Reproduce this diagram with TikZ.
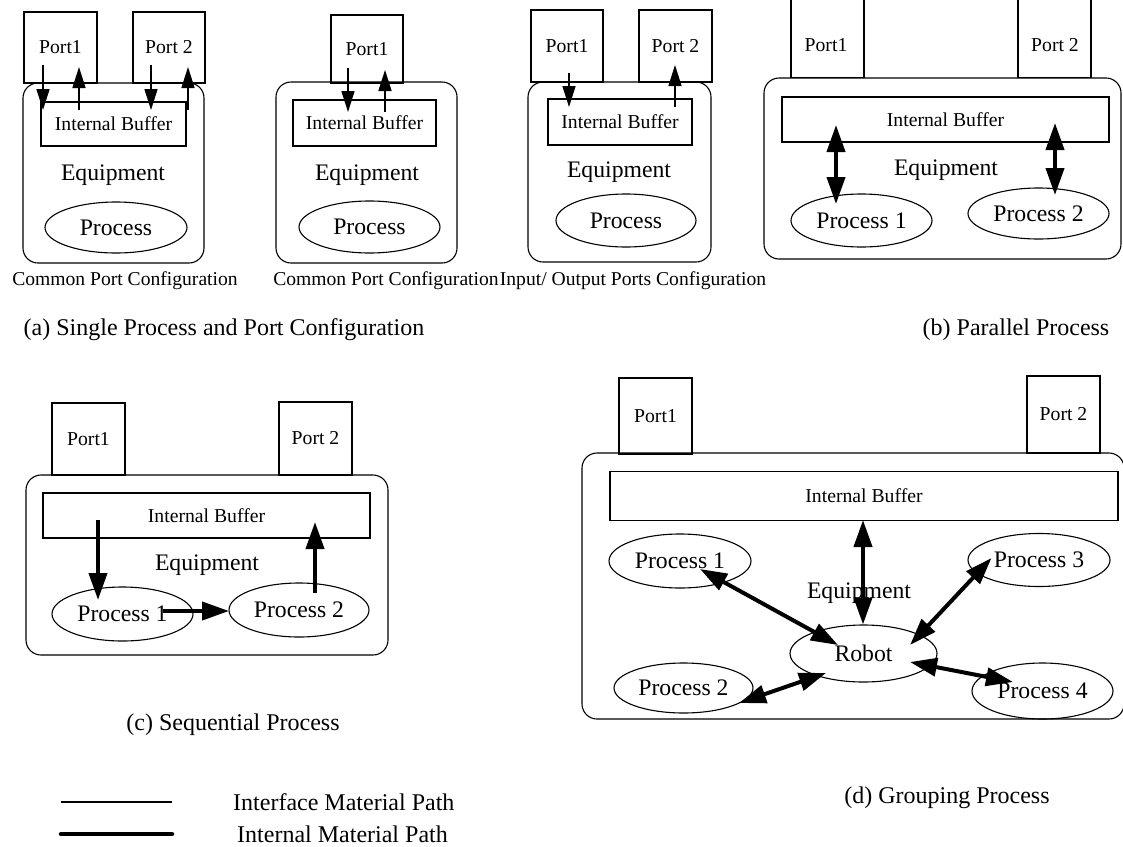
\documentclass[tikz,border=0pt]{standalone}
\usepackage{fontspec}
\setmainfont{Liberation Serif}
\usetikzlibrary{arrows.meta,shapes.geometric}
\begin{document}
\begin{tikzpicture}[x=1pt,y=-1pt,
  outline/.style={draw=black, line width=1.1pt},
  portbox/.style={outline, rectangle, inner sep=0pt, font=\fontsize{19.7}{22}\selectfont},
  openport/.style={outline, rectangle, inner sep=0pt},
  equipbox/.style={outline, rectangle, rounded corners=15pt, inner sep=0pt},
  bufferbox/.style={outline, rectangle, inner sep=0pt, font=\fontsize{19.7}{22}\selectfont},
  procell/.style={outline, ellipse, inner sep=0pt, font=\fontsize{23.7}{26}\selectfont},
  bigtext/.style={inner sep=0pt, font=\fontsize{23.7}{26}\selectfont},
  smalltext/.style={inner sep=0pt, font=\fontsize{19.7}{22}\selectfont},
  conftext/.style={inner sep=0pt, font=\fontsize{19.6}{22}\selectfont},
  captext/.style={inner sep=0pt, font=\fontsize{24}{28}\selectfont},
  iface/.style={line width=1.6pt, -{Triangle[length=21pt,width=13pt]}},
  intern/.style={line width=4pt, -{Triangle[length=27pt,width=18pt]}},
  internboth/.style={line width=4pt, {Triangle[length=27pt,width=18pt]}-{Triangle[length=27pt,width=18pt]}},
]
\fill[white] (0,0) rectangle (1123,846);
\useasboundingbox (0,0) rectangle (1123,846);

% ---------- (a) first common port configuration ----------
\node[equipbox, minimum width=181pt, minimum height=180pt] (a1e) at (113.5,173) {};
\node[portbox, minimum width=73pt, minimum height=71pt] (a1p1) at (60.5,47.5) {Port1};
\node[portbox, minimum width=72pt, minimum height=71pt] (a1p2) at (169,47.5) {Port 2};
\node[bufferbox, minimum width=145pt, minimum height=44pt] (a1b) at (113.5,124) {Internal Buffer};
\node[bigtext] (a1t) at (113,175) {Equipment};
\node[procell, minimum width=142pt, minimum height=51pt] (a1pr) at (116,227.5) {Process};
\coordinate (a1d1s) at (43,65);  \coordinate (a1d1e) at (43,110);
\coordinate (a1u1s) at (79,110); \coordinate (a1u1e) at (79,67);
\coordinate (a1d2s) at (151,65); \coordinate (a1d2e) at (151,110);
\coordinate (a1u2s) at (188,110);\coordinate (a1u2e) at (188,67);
\draw[iface] (a1d1s) -- (a1d1e);
\draw[iface] (a1u1s) -- (a1u1e);
\draw[iface] (a1d2s) -- (a1d2e);
\draw[iface] (a1u2s) -- (a1u2e);
\node[conftext] (a1c) at (125,281) {Common Port Configuration};

% ---------- (a) second common port configuration ----------
\node[equipbox, minimum width=181pt, minimum height=181pt] (a2e) at (366.5,172.5) {};
\node[portbox, minimum width=72pt, minimum height=68pt] (a2p1) at (367,49) {Port1};
\node[bufferbox, minimum width=143pt, minimum height=46pt] (a2b) at (364.5,123) {Internal Buffer};
\node[bigtext] (a2t) at (367,175) {Equipment};
\node[procell, minimum width=141pt, minimum height=52pt] (a2pr) at (369.5,227) {Process};
\coordinate (a2ds) at (348,68);  \coordinate (a2de) at (348,112);
\coordinate (a2us) at (385,112); \coordinate (a2ue) at (385,70);
\draw[iface] (a2ds) -- (a2de);
\draw[iface] (a2us) -- (a2ue);
\node[conftext] (a2c) at (386,281) {Common Port Configuration};

% ---------- (a) input / output ports configuration ----------
\node[equipbox, minimum width=183pt, minimum height=180pt] (a3e) at (619.5,172) {};
\node[portbox, minimum width=72pt, minimum height=72pt] (a3p1) at (567,46) {Port1};
\node[portbox, minimum width=73pt, minimum height=72pt] (a3p2) at (675.5,46) {Port 2};
\node[bufferbox, minimum width=144pt, minimum height=46pt] (a3b) at (620,122) {Internal Buffer};
\node[bigtext] (a3t) at (619,172) {Equipment};
\node[procell, minimum width=140pt, minimum height=53pt] (a3pr) at (626,220.5) {Process};
\coordinate (a3ds) at (569,73);  \coordinate (a3de) at (569,107);
\coordinate (a3us) at (675,107); \coordinate (a3ue) at (675,65);
\draw[iface] (a3ds) -- (a3de);
\draw[iface] (a3us) -- (a3ue);
\node[conftext] (a3c) at (633,281) {Input/ Output Ports Configuration};

\node[captext] (acap) at (224,330) {(a) Single Process and Port Configuration};

% ---------- (b) parallel process ----------
\node[openport, minimum width=73pt, minimum height=88pt] (bp1) at (827.5,34) {};
\node[openport, minimum width=73pt, minimum height=88pt] (bp2) at (1054.5,34) {};
\node[smalltext] (bp1t) at (826,45) {Port1};
\node[smalltext] (bp2t) at (1055,45) {Port 2};
\node[equipbox, fill=white, minimum width=357pt, minimum height=181pt] (be) at (942.5,168.5) {};
\node[bufferbox, minimum width=327pt, minimum height=45pt] (bb) at (945.5,119.5) {Internal Buffer};
\node[bigtext] (bt) at (946,170) {Equipment};
\node[procell, minimum width=141pt, minimum height=53pt] (bpr1) at (861.5,220.5) {Process 1};
\node[procell, minimum width=141pt, minimum height=51pt] (bpr2) at (1038.5,213.5) {Process 2};
\coordinate (ba1s) at (836,125);  \coordinate (ba1e) at (836,204);
\coordinate (ba2s) at (1055,123); \coordinate (ba2e) at (1055,195);
\draw[internboth] (ba1s) -- (ba1e);
\draw[internboth] (ba2s) -- (ba2e);
\node[captext] (bcap) at (1016,330) {(b) Parallel Process};

% ---------- (c) sequential process ----------
\node[equipbox, minimum width=362pt, minimum height=180pt] (ce) at (207,565) {};
\node[portbox, minimum width=73pt, minimum height=72pt] (cp1) at (88.5,439) {Port1};
\node[portbox, minimum width=73pt, minimum height=73pt] (cp2) at (315.5,438.5) {Port 2};
\node[bufferbox, minimum width=327pt, minimum height=45pt] (cb) at (206.5,515.5) {Internal Buffer};
\node[bigtext] (ct) at (207,565) {Equipment};
\node[procell, minimum width=141pt, minimum height=54pt] (cpr1) at (122.5,614) {Process 1};
\node[procell, minimum width=140pt, minimum height=54pt] (cpr2) at (299,610) {Process 2};
\coordinate (cds) at (98,520);  \coordinate (cde) at (98,600);
\coordinate (cus) at (315,593); \coordinate (cue) at (315,522);
\coordinate (chs) at (163,611); \coordinate (che) at (229,611);
\draw[intern] (cds) -- (cde);
\draw[intern] (cus) -- (cue);
\draw[intern] (chs) -- (che);
\node[captext] (ccap) at (233,725) {(c) Sequential Process};

% ---------- (d) grouping process ----------
\node[equipbox, minimum width=542pt, minimum height=266pt] (de) at (853,586) {};
\node[portbox, minimum width=73pt, minimum height=76pt] (dp1) at (655.5,416) {Port1};
\node[portbox, minimum width=73pt, minimum height=77pt] (dp2) at (1063.5,414.5) {Port 2};
\node[bufferbox, minimum width=508pt, minimum height=48.5pt] (db) at (864,496) {Internal Buffer};
\node[bigtext] (dt) at (859,593.5) {Equipment};
\node[procell, minimum width=142pt, minimum height=54pt] (dpr1) at (680,561) {Process 1};
\node[procell, minimum width=142pt, minimum height=53pt] (dpr3) at (1039,560) {Process 3};
\node[procell, minimum width=147pt, minimum height=57pt] (drob) at (863.5,653.5) {Robot};
\node[procell, minimum width=139pt, minimum height=50pt] (dpr2) at (683.5,688) {Process 2};
\node[procell, minimum width=141pt, minimum height=56pt] (dpr4) at (1042.5,691) {Process 4};
\coordinate (dvs) at (863,520);   \coordinate (dve) at (863,624.5);
\coordinate (d1s) at (700,569);   \coordinate (d1e) at (838,645);
\coordinate (d3s) at (991.5,558); \coordinate (d3e) at (910,645);
\coordinate (d2s) at (739,703);   \coordinate (d2e) at (826,673);
\coordinate (d4s) at (1013,682);  \coordinate (d4e) at (910,662);
\draw[internboth] (dvs) -- (dve);
\draw[internboth] (d1s) -- (d1e);
\draw[internboth] (d3s) -- (d3e);
\draw[internboth] (d2s) -- (d2e);
\draw[internboth] (d4s) -- (d4e);
\node[captext] (dcap) at (947,798) {(d) Grouping Process};

% ---------- legend ----------
\coordinate (lg1a) at (61,802); \coordinate (lg1b) at (172,802);
\coordinate (lg2a) at (61,834); \coordinate (lg2b) at (172,834);
\draw[line width=1.6pt] (lg1a) -- (lg1b);
\draw[line width=4.5pt, line cap=round] (lg2a) -- (lg2b);
\node[captext, anchor=west] (lg1t) at (233,802) {Interface Material Path};
\node[captext, anchor=west] (lg2t) at (237,834) {Internal Material Path};
\end{tikzpicture}
\end{document}
